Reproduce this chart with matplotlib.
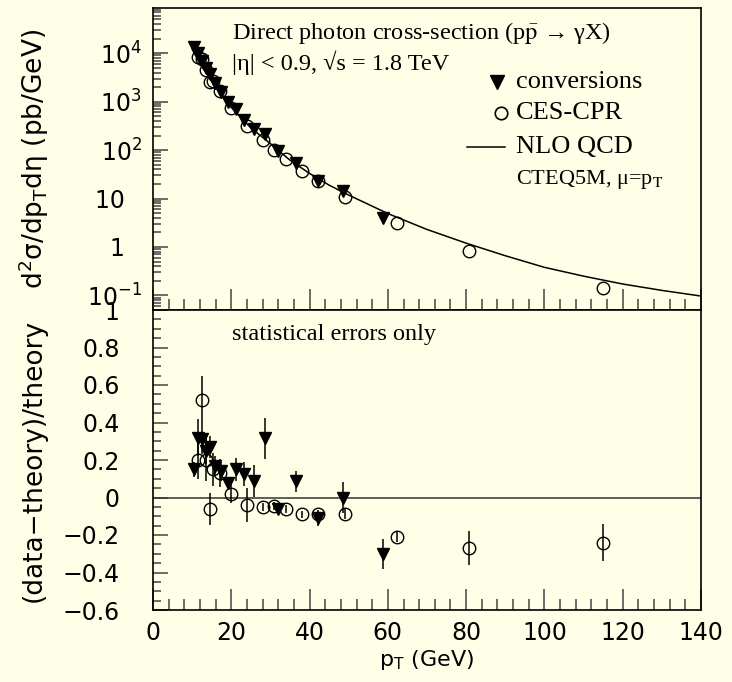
import matplotlib

matplotlib.use('Agg')
import matplotlib.pyplot as plt
from matplotlib.ticker import FixedLocator, MultipleLocator, NullFormatter
import numpy as np

plt.rcParams['font.family'] = ['DejaVu Sans']
plt.rcParams['mathtext.fontset'] = 'stix'

BG = '#ffffe8'
SERIF = ['Liberation Serif', 'DejaVu Serif']

# NLO QCD (CTEQ5M, mu = pT)
theory_pt = [10, 12, 14, 16, 18, 20, 25, 30, 35, 40, 45, 50, 60, 70, 80, 90, 100, 110, 120, 130, 140]
theory_xs = [12200, 6000, 3500, 2030, 1200, 760, 288, 136, 62, 33, 18.9, 11.8, 4.9, 2.3, 1.2,
             0.66, 0.38, 0.25, 0.172, 0.127, 0.097]

# conversions
conv_pt = [10.6, 11.4, 12.4, 13.5, 14.6, 15.8, 17.3, 19.1, 21.1, 23.3, 25.8, 28.6, 32.0, 36.5, 42.1, 48.6, 58.7]
conv_xs = [13700, 10300, 6900, 4900, 3750, 2400, 1620, 1000, 700, 420, 267, 211, 96, 55, 23, 14.2, 4.0]
conv_ratio = [0.15, 0.32, 0.31, 0.25, 0.27, 0.17, 0.14, 0.075, 0.15, 0.125, 0.087, 0.315, -0.06, 0.087, -0.11, 0.0, -0.30]
conv_err = [0.04, 0.10, 0.08, 0.07, 0.06, 0.05, 0.05, 0.02, 0.06, 0.065, 0.085, 0.11, 0.025, 0.055, 0.04, 0.085, 0.08]

# CES-CPR
ces_pt = [11.4, 12.4, 13.5, 14.6, 15.4, 17.0, 19.8, 23.9, 28.0, 31.0, 33.9, 38.0, 42.1, 49.1, 62.4, 80.8, 114.9]
ces_xs = [8500, 7500, 4500, 2600, 2700, 1700, 750, 310, 160, 100, 66, 37, 23, 11, 3.1, 0.82, 0.145]
ces_ratio = [0.20, 0.52, 0.20, -0.06, 0.15, 0.13, 0.02, -0.04, -0.05, -0.045, -0.06, -0.09, -0.09, -0.087, -0.21, -0.27, -0.24]
ces_err = [0.10, 0.13, 0.11, 0.085, 0.09, 0.075, 0.05, 0.09, 0.02, 0.02, 0.02, 0.02, 0.025, 0.025, 0.025, 0.09, 0.10]

log_ticks = [0.1, 1, 10, 100, 1000, 10000]
# trailing spaces keep the plain labels lined up with the base of the powers
log_labels = [r'$\mathregular{10^{-1}}$', '1\u2002\u2009', '10\u2002\u2009', r'$\mathregular{10^{2}}$',
              r'$\mathregular{10^{3}}$', r'$\mathregular{10^{4}}$']
ratio_ticks = [1.0, 0.8, 0.6, 0.4, 0.2, 0.0, -0.2, -0.4, -0.6]
ratio_labels = ['1', '0.8', '0.6', '0.4', '0.2', '0', '−0.2', '−0.4', '−0.6']

fig = plt.figure(figsize=(7.32, 6.82), dpi=100, facecolor=BG)
W, H = 732, 682
ax1 = fig.add_axes([153 / W, 1 - 310 / H, 548 / W, 302 / H], facecolor=BG)
ax2 = fig.add_axes([153 / W, 1 - 610 / H, 548 / W, 300 / H], facecolor=BG)

for ax in (ax1, ax2):
    ax.set_xlim(0, 140)
    ax.xaxis.set_major_locator(MultipleLocator(20))
    ax.xaxis.set_minor_locator(MultipleLocator(4))
    ax.tick_params(which='both', direction='in', top=False, right=False, color='#444444',
                   labelsize=17, width=1.1)
    ax.tick_params(axis='x', which='major', length=15)
    ax.tick_params(axis='x', which='minor', length=8)
    for s in ax.spines.values():
        s.set_linewidth(1.2)

# upper panel
ax1.set_yscale('log')
ax1.set_ylim(0.05, 8.6e4)
ax1.yaxis.set_major_locator(FixedLocator(log_ticks))
ax1.set_yticklabels(log_labels)
ax1.yaxis.set_minor_formatter(NullFormatter())
ax1.tick_params(axis='y', which='major', length=11, pad=8)
ax1.tick_params(axis='y', which='minor', length=6)
ax1.tick_params(axis='x', labelbottom=False)

ax1.plot(theory_pt, theory_xs, color='black', lw=1.1)
ax1.plot(conv_pt, conv_xs, 'v', color='black', ms=8)
ax1.plot(ces_pt, ces_xs, 'o', mfc='none', mec='black', mew=1.0, ms=9)

ax1.set_ylabel(r'd$\mathregular{^2}$σ/dp$\mathregular{_T}$dη (pb/GeV)', fontsize=19, va='center')
ax1.yaxis.set_label_coords(-0.217, 0.5)

ax1.text(20.1, 2.6e4, r'Direct photon cross-section (p$\bar{\mathrm{p}}$ → γX)', family=SERIF, fontsize=17.5,
         va='center')
ax1.text(20.1, 6.3e3, '|η| < 0.9, √s = 1.8 TeV', family=SERIF, fontsize=17.5, va='center')

ax1.plot([87.8], [2.58e3], 'v', color='black', ms=10)
ax1.text(92.7, 2.58e3, 'conversions', family=SERIF, fontsize=19, va='center')
ax1.plot([88.9], [5.9e2], 'o', mfc='none', mec='black', mew=1.2, ms=9)
ax1.text(92.7, 5.9e2, 'CES-CPR', family=SERIF, fontsize=19, va='center')
ax1.plot([80.1, 89.9], [1.17e2, 1.17e2], color='black', lw=1.1)
ax1.text(92.7, 1.17e2, 'NLO QCD', family=SERIF, fontsize=19, va='center')
ax1.text(92.7, 2.5e1, r'CTEQ5M, μ=p$_\mathrm{T}$', family=SERIF, fontsize=16, va='center')

# lower panel
ax2.set_ylim(-0.6, 1.0)
ax2.yaxis.set_major_locator(FixedLocator(ratio_ticks))
ax2.yaxis.set_minor_locator(MultipleLocator(0.05))
ax2.set_yticklabels(ratio_labels)
ax2.tick_params(axis='y', which='major', length=11, pad=24)
ax2.tick_params(axis='y', which='minor', length=6)
ax2.tick_params(axis='x', pad=8)

ax2.axhline(0, color='#333333', lw=1.1)
ax2.errorbar(conv_pt, conv_ratio, yerr=conv_err, fmt='v', color='black', ms=8, elinewidth=1.1, capsize=0)
ax2.errorbar(ces_pt, ces_ratio, yerr=ces_err, fmt='o', mfc='none', mec='black', mew=1.0, ms=9,
             ecolor='black', elinewidth=1.1, capsize=0)

ax2.text(20.1, 0.87, 'statistical errors only', family=SERIF, fontsize=17.5, va='center')
ax2.set_ylabel('(data−theory)/theory', fontsize=19, va='center')
ax2.yaxis.set_label_coords(-0.217, 0.5)
ax2.set_xlabel(r'p$\mathregular{_T}$ (GeV)', fontsize=16, labelpad=2)

fig.savefig('out.png', dpi=100, facecolor=BG)
